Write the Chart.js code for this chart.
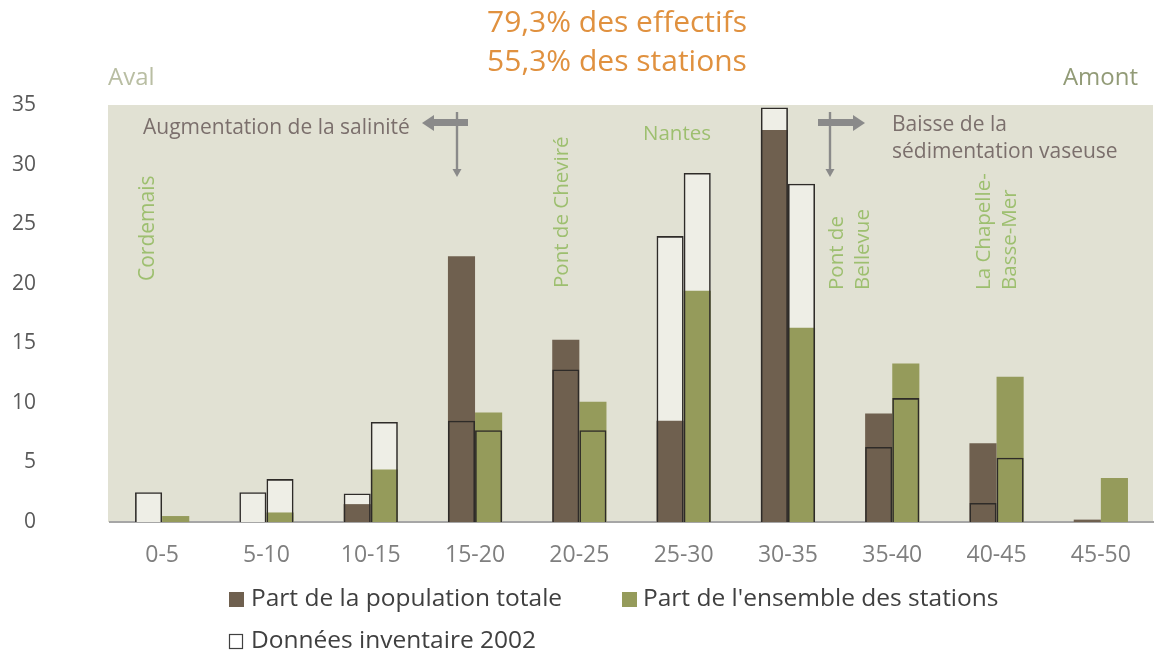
<!DOCTYPE html>
<html>
<head>
<meta charset="utf-8">
<script src="https://cdn.jsdelivr.net/npm/chart.js@4.4.1/dist/chart.umd.min.js"></script>
<style>
html,body{margin:0;padding:0;background:#fff}
#wrap{width:1154px;height:657px}
</style>
</head>
<body>
<div id="wrap"><canvas id="c" width="1154" height="657"></canvas></div>
<script>
// ======= Données =======
const classes = ['0-5','5-10','10-15','15-20','20-25','25-30','30-35','35-40','40-45','45-50'];
const partPopulation = [0, 0, 1.5, 22.3, 15.3, 8.5, 32.9, 9.1, 6.6, 0.2];
const partStations = [0.5, 0.8, 4.4, 9.2, 10.1, 19.4, 16.3, 13.3, 12.2, 3.7];
const inv2002Population = [2.5, 2.5, 2.4, 8.5, 12.8, 24.0, 34.8, 6.3, 1.6, null];
const inv2002Stations = [null, 3.6, 8.4, 7.7, 7.7, 29.3, 28.4, 10.4, 5.4, null];
const yTicks = [0, 5, 10, 15, 20, 25, 30, 35];

const titleLines = ['79,3% des effectifs', '55,3% des stations'];
const legendItems = ['Part de la population totale', "Part de l'ensemble des stations", 'Données inventaire 2002'];

const FONT = '"Open Sans", "Noto Sans", sans-serif';
const BROWN = '#6f604f';
const GREEN = '#959b5b';
const PLOT_BG = '#e1e1d3';
const GREEN_TXT = '#9dbf6f';
const NOTE_TXT = '#7b6f6c';
const ARROW = '#8a8a8a';

// ======= Fond de la zone de tracé =======
const plotBg = {
  id: 'plotBg',
  beforeDraw(chart){
    const {ctx, chartArea: a} = chart;
    ctx.save();
    ctx.fillStyle = PLOT_BG;
    ctx.fillRect(a.left - 2, a.top, a.right - a.left + 2, a.bottom - a.top);
    ctx.restore();
  }
};

// ======= Flèches, textes, légende =======
function txt(ctx, s, x, y, color, size, align){
  ctx.fillStyle = color;
  ctx.font = size + 'px ' + FONT;
  ctx.textAlign = align || 'left';
  ctx.textBaseline = 'middle';
  ctx.fillText(s, x, y);
}
function vtxt(ctx, s, x, bottom, color, size){
  ctx.save();
  ctx.translate(x, bottom);
  ctx.rotate(-Math.PI / 2);
  txt(ctx, s, 0, 0, color, size, 'left');
  ctx.restore();
}
function arrowCross(ctx, x0, x1, dir, vx){
  // barre horizontale épaisse + pointe
  const y = 123;
  ctx.fillStyle = ARROW;
  ctx.fillRect(Math.min(x0, x1), y - 4, Math.abs(x1 - x0), 7);
  const tip = dir < 0 ? Math.min(x0, x1) - 8 : Math.max(x0, x1) + 8;
  const base = dir < 0 ? tip + 12 : tip - 12;
  ctx.beginPath();
  ctx.moveTo(tip, y);
  ctx.lineTo(base, y - 8);
  ctx.lineTo(base, y + 8);
  ctx.closePath();
  ctx.fill();
  // ligne verticale fine + pointe
  ctx.fillRect(vx - 1.2, 112, 2.4, 58);
  ctx.beginPath();
  ctx.moveTo(vx, 177);
  ctx.lineTo(vx - 4.5, 169);
  ctx.lineTo(vx + 4.5, 169);
  ctx.closePath();
  ctx.fill();
}

const annotations = {
  id: 'annotations',
  afterDraw(chart){
    const ctx = chart.ctx;
    ctx.save();
    // titre
    txt(ctx, titleLines[0], 617, 23, '#e0913f', 30, 'center');
    txt(ctx, titleLines[1], 617, 62, '#e0913f', 30, 'center');
    txt(ctx, 'Aval', 108, 78, '#b9bea3', 24, 'left');
    txt(ctx, 'Amont', 1138, 78, '#929b77', 24, 'right');

    // gradients
    txt(ctx, 'Augmentation de la salinité', 143, 128, NOTE_TXT, 21, 'left');
    arrowCross(ctx, 430, 468, -1, 457);
    txt(ctx, 'Baisse de la', 892, 125, NOTE_TXT, 21, 'left');
    txt(ctx, 'sédimentation vaseuse', 892, 152, NOTE_TXT, 21, 'left');
    arrowCross(ctx, 818, 857, 1, 830);

    // lieux
    vtxt(ctx, 'Cordemais', 148, 281, GREEN_TXT, 21);
    vtxt(ctx, 'Pont de Cheviré', 562, 288, GREEN_TXT, 20.5);
    txt(ctx, 'Nantes', 677, 134, GREEN_TXT, 20.5, 'center');
    vtxt(ctx, 'Pont de', 837, 290, GREEN_TXT, 20.5);
    vtxt(ctx, 'Bellevue', 863, 290, GREEN_TXT, 20.5);
    vtxt(ctx, 'La Chapelle-', 984, 290, GREEN_TXT, 20.5);
    vtxt(ctx, 'Basse-Mer', 1010, 290, GREEN_TXT, 20.5);

    // légende
    ctx.fillStyle = BROWN;
    ctx.fillRect(229, 592, 15, 15);
    txt(ctx, legendItems[0], 251, 599, '#404040', 24.5, 'left');
    ctx.fillStyle = GREEN;
    ctx.fillRect(622, 592, 15, 15);
    txt(ctx, legendItems[1], 643, 599, '#404040', 24.5, 'left');
    ctx.strokeStyle = '#404040';
    ctx.lineWidth = 1.2;
    ctx.strokeRect(229.5, 634.5, 13, 14);
    txt(ctx, legendItems[2], 251, 641, '#404040', 24.5, 'left');
    ctx.restore();
  }
};

// ======= Graphique =======
// même "stack" = même emplacement ; y.stacked=false => pas de cumul
const outlineBar = {backgroundColor: 'rgba(0,0,0,0)', borderColor: '#2e2b28', borderWidth: 1.6, order: 1};
const fillBar = {backgroundColor: '#eeeee6', borderWidth: 0, order: 3};

new Chart(document.getElementById('c'), {
  type: 'bar',
  data: {
    labels: classes,
    datasets: [
      {...fillBar, label: 'inv2002 pop (fond)', data: inv2002Population, stack: 'pop'},
      {...fillBar, label: 'inv2002 st (fond)', data: inv2002Stations, stack: 'st'},
      {label: legendItems[0], data: partPopulation, backgroundColor: BROWN, borderWidth: 0, order: 2, stack: 'pop'},
      {label: legendItems[1], data: partStations, backgroundColor: GREEN, borderWidth: 0, order: 2, stack: 'st'},
      {...outlineBar, label: legendItems[2], data: inv2002Population, stack: 'pop'},
      {...outlineBar, label: 'inv2002 st', data: inv2002Stations, stack: 'st'}
    ]
  },
  options: {
    responsive: false,
    animation: false,
    devicePixelRatio: 1,
    layout: {padding: {top: 105, right: 1, bottom: 90, left: 0}},
    datasets: {bar: {barPercentage: 1, categoryPercentage: 0.52}},
    plugins: {legend: {display: false}, tooltip: {enabled: false}, title: {display: false}},
    scales: {
      x: {
        grid: {display: false, drawTicks: false},
        border: {color: '#a6a6a6', width: 2},
        ticks: {color: '#7f7f7f', font: {size: 23, family: FONT}, padding: 20},
        afterFit(s){ s.height = 45; }
      },
      y: {
        stacked: false,
        min: 0, max: 35,
        afterBuildTicks(s){ s.ticks = yTicks.map(v => ({value: v})); },
        grid: {display: false, drawTicks: false},
        border: {display: false},
        ticks: {color: '#595959', font: {size: 21, family: FONT}, padding: 74},
        afterFit(s){ s.width = 110; }
      }
    }
  },
  plugins: [plotBg, annotations]
});
</script>
</body>
</html>
